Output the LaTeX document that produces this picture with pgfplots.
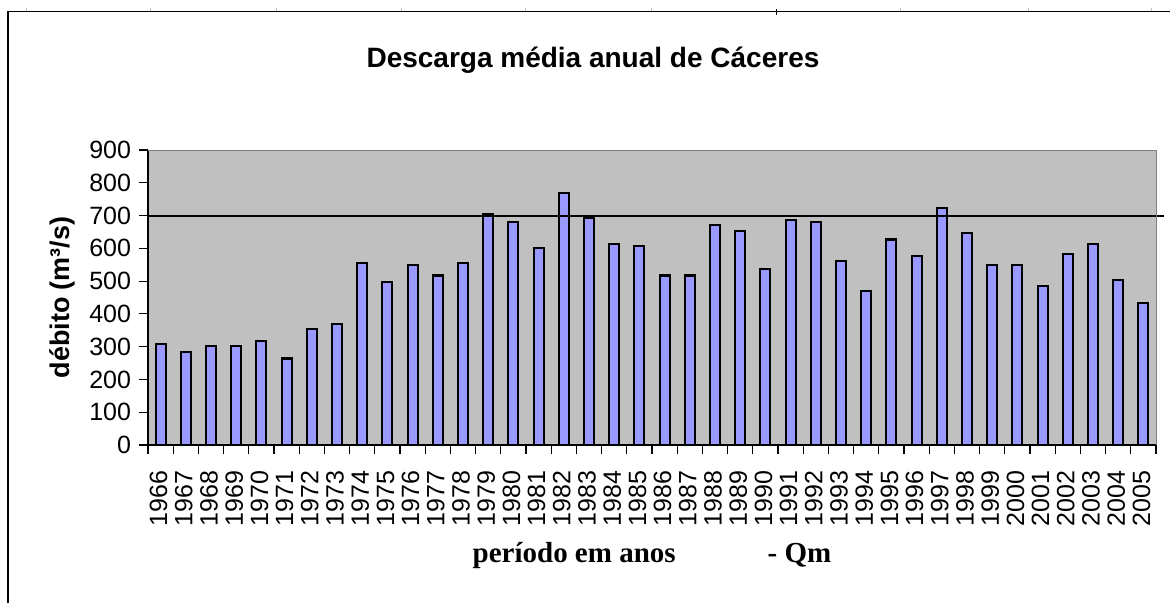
\documentclass[border=0pt]{standalone}
\usepackage{fontspec}
\setmainfont{Liberation Sans}
\newfontfamily\timesfont{Liberation Serif}
\usepackage{pgfplots}
\pgfplotsset{compat=1.18}
\definecolor{plotgray}{HTML}{C0C0C0}
\definecolor{barblue}{HTML}{9999FF}
\definecolor{edgegray}{HTML}{808080}

\begin{document}
\begin{tikzpicture}
\useasboundingbox (0,0) rectangle (1170pt,603pt);
% chart frame (left and top only, as in the screenshot)
\draw[line width=1.4pt] (8pt,0) -- (8pt,591.5pt) -- (1170pt,591.5pt);
\foreach \t in {26,150,276,401,525,651,900,1028,1151}
  \draw[black!25] (\t pt,591.5pt) -- (\t pt,594.5pt);
\draw[line width=1pt] (776pt,588pt) -- (776pt,594pt);

\begin{axis}[
  at={(148pt,158pt)}, anchor=south west,
  width=1008pt, height=295pt, scale only axis,
  xmin=-0.5, xmax=39.5, ymin=0, ymax=900,
  ytick={0,100,...,900},
  xtick={-0.5,0.5,...,39.5},
  x tick label as interval,
  xticklabels={1966,1967,1968,1969,1970,1971,1972,1973,1974,1975,
    1976,1977,1978,1979,1980,1981,1982,1983,1984,1985,
    1986,1987,1988,1989,1990,1991,1992,1993,1994,1995,
    1996,1997,1998,1999,2000,2001,2002,2003,2004,2005},
  axis lines*=left,
  axis line style={black, line width=1.4pt},
  tick align=outside, major tick length=9pt,
  tick style={black, line width=1.2pt},
  axis background/.style={fill=plotgray},
  /pgf/number format/assume math mode=true,
  ticklabel style={font=\fontsize{25}{25}\selectfont},
  y tick label style={xshift=-4.5pt},
  % rotated labels: xshift moves them vertically, yshift horizontally
  x tick label style={rotate=90, anchor=east, xshift=-13pt, yshift=2pt},
  title={Descarga média anual de Cáceres},
  title style={font=\fontsize{28}{28}\selectfont\bfseries,
    at={(axis description cs:0.5,1)}, anchor=base, xshift=-59pt, yshift=77pt},
  ylabel={débito (m³/s)},
  ylabel style={font=\fontsize{27}{27}\selectfont\bfseries,
    at={(axis description cs:0,0.5)}, anchor=base, yshift=78pt},
  xlabel={período em anos\hspace*{92pt}- Qm},
  xlabel style={font=\fontsize{29}{29}\selectfont\timesfont\bfseries,
    at={(axis description cs:0.5,0)}, anchor=base, yshift=-117pt},
  clip=false,
]
\addplot[ybar, bar width=10pt, bar shift=0pt, fill=barblue, draw=black, line width=2.1pt]
coordinates {
(0,308) (1,284) (2,303) (3,303) (4,316) (5,264) (6,355) (7,368) (8,555) (9,496)
(10,549) (11,517) (12,555) (13,705) (14,679) (15,602) (16,770) (17,693) (18,613) (19,607)
(20,517) (21,517) (22,672) (23,654) (24,537) (25,686) (26,679) (27,562) (28,471) (29,627)
(30,576) (31,724) (32,646) (33,549) (34,549) (35,484) (36,582) (37,613) (38,503) (39,432)
};
\addplot[sharp plot, black, line width=2pt, mark=none] coordinates {(-0.5,700) (39.8,700)};
\draw[edgegray, line width=1pt] (rel axis cs:0,1) -- (rel axis cs:1,1) -- (rel axis cs:1,0);
\end{axis}
\end{tikzpicture}
\end{document}
